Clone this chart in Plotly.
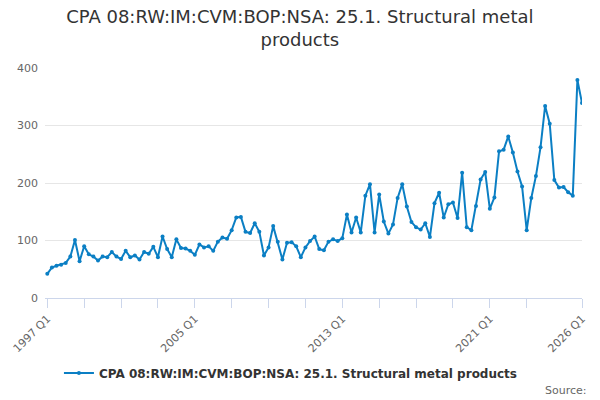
import plotly.graph_objs as go

# quarters 1997 Q1 .. 2026 Q1
quarters = [f"{y} Q{q}" for y in range(1997, 2027) for q in range(1, 5)][:117]

values = [
    42, 53, 56, 58, 61, 72, 101, 64, 90, 76, 72, 65, 72, 71, 80, 72, 68, 82, 71, 74, 67, 80, 77,
    89, 71, 107, 85, 71, 102, 87, 86, 82, 75, 93, 88, 90, 82, 98, 105, 103, 118, 140, 141, 115, 113, 130,
    115, 74, 88, 125, 98, 67, 96, 97, 90, 71, 88, 99, 107, 85, 83, 98, 102, 99, 104, 145, 114, 140,
    114, 178, 198, 114, 180, 133, 112, 128, 174, 198, 159, 132, 123, 119, 130, 106, 165, 183,
    140, 163, 166, 139, 218, 123, 118, 160, 206, 219, 155, 175, 255, 258, 281, 253, 220, 194,
    118, 174, 212, 262, 334, 303, 205, 192, 193, 184, 178, 379, 339,
]

tick_quarters = [f"{y} Q1" for y in range(1997, 2025, 2)] + ["2026 Q1"]
labelled = ["1997 Q1", "2005 Q1", "2013 Q1", "2021 Q1", "2026 Q1"]
tick_text = [q if q in labelled else "" for q in tick_quarters]

series_name = "CPA 08:RW:IM:CVM:BOP:NSA: 25.1. Structural metal products"

fig = go.Figure()
fig.add_trace(go.Scatter(
    x=quarters,
    y=values,
    mode="lines+markers",
    name="<b>" + series_name + "</b>",
    line=dict(color="#0b7fc4", width=2),
    marker=dict(size=4, color="#0b7fc4"),
))

# the page body adds an 8px margin, so the figure is 8px smaller and margins shifted
fig.update_layout(
    width=592,
    height=392,
    font=dict(family="DejaVu Sans", color="#666666"),
    title=dict(
        text="CPA 08:RW:IM:CVM:BOP:NSA: 25.1. Structural metal<br>products",
        x=0.493, xanchor="center", xref="container",
        y=0.962, yanchor="top",
        font=dict(size=18, color="#333333"),
    ),
    margin=dict(l=37, r=18, t=60, b=102),
    plot_bgcolor="white",
    paper_bgcolor="white",
    showlegend=True,
    legend=dict(
        orientation="h",
        x=0.458, xanchor="center",
        y=-0.326, yanchor="middle",
        font=dict(size=12, color="#333333"),
    ),
    xaxis=dict(
        type="category",
        range=[-0.5, 116],
        tickmode="array",
        tickvals=tick_quarters,
        ticktext=tick_text,
        tickangle=-45,
        ticks="outside",
        ticklen=9,
        tickcolor="#ccd6eb",
        showline=True,
        linecolor="#ccd6eb",
        showgrid=False,
        automargin=False,
        tickfont=dict(size=11, color="#666666"),
    ),
    yaxis=dict(
        range=[0, 400],
        tickvals=[0, 100, 200, 300, 400],
        showgrid=True,
        gridcolor="#e6e6e6",
        zeroline=False,
        showline=False,
        automargin=False,
        tickfont=dict(size=11, color="#666666"),
        ticklabelstandoff=6,
    ),
    annotations=[dict(
        text="Source:",
        xref="paper", yref="paper",
        x=1.013, xanchor="right",
        y=-0.4, yanchor="middle",
        showarrow=False,
        font=dict(size=11, color="#666666"),
    )],
)

fig.write_html("out.html")
